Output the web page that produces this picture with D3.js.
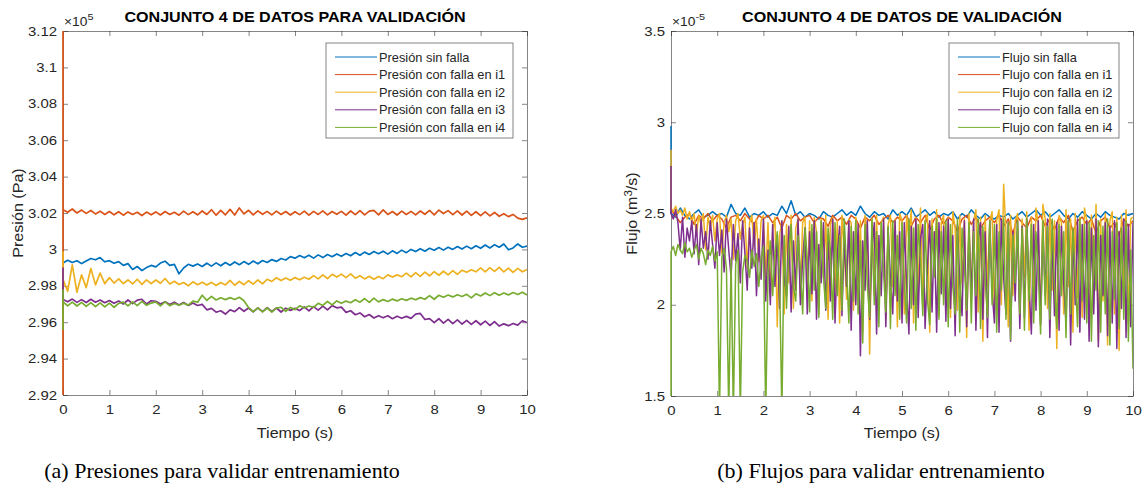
<!DOCTYPE html>
<html>
<head>
<meta charset="utf-8">
<script src="https://cdn.jsdelivr.net/npm/d3@7"></script>
<style>
  body { margin: 0; background: #fff; }
  svg { font-family: Arial, "Liberation Sans", Helvetica, sans-serif; }
</style>
</head>
<body>
<svg id="chart" width="1145" height="490"></svg>
<script>
// ---- data ----
// presion en unidades de 1e5 Pa, una muestra cada 0.1 s
let presSinFalla = [2.9925,2.9940,2.9928,2.9938,2.9922,2.9936,2.9950,2.9943,2.9955,2.9932,
  2.9938,2.9924,2.9933,2.9912,2.9922,2.9890,2.9906,2.9884,2.9900,2.9912,
  2.9904,2.9925,2.9935,2.9912,2.9918,2.9866,2.9898,2.9918,2.9908,2.9920,
  2.9906,2.9924,2.9908,2.9926,2.9910,2.9928,2.9913,2.9931,2.9916,2.9933,
  2.9918,2.9936,2.9921,2.9939,2.9928,2.9944,2.9934,2.9950,2.9942,2.9960,
  2.9952,2.9966,2.9954,2.9968,2.9952,2.9970,2.9955,2.9972,2.9960,2.9975,
  2.9962,2.9977,2.9965,2.9983,2.9968,2.9985,2.9972,2.9988,2.9976,2.9990,
  2.9974,2.9992,2.9978,2.9996,2.9982,3.0000,2.9988,3.0004,2.9990,3.0006,
  2.9995,3.0010,2.9996,3.0012,3.0000,3.0016,3.0002,3.0018,3.0004,3.0020,
  3.0006,3.0024,3.0008,3.0026,3.0012,3.0030,2.9998,3.0008,3.0030,3.0012,3.0018];
let presFallaI1 = [3.0218,3.0204,3.0222,3.0200,3.0216,3.0198,3.0214,3.0195,3.0210,3.0192,
  3.0208,3.0190,3.0207,3.0188,3.0206,3.0192,3.0204,3.0186,3.0205,3.0190,
  3.0206,3.0189,3.0208,3.0192,3.0204,3.0188,3.0210,3.0191,3.0207,3.0190,
  3.0211,3.0192,3.0218,3.0188,3.0214,3.0190,3.0220,3.0189,3.0228,3.0195,
  3.0215,3.0190,3.0212,3.0193,3.0209,3.0190,3.0210,3.0192,3.0208,3.0189,
  3.0207,3.0191,3.0210,3.0188,3.0209,3.0192,3.0212,3.0190,3.0208,3.0193,
  3.0209,3.0188,3.0211,3.0191,3.0213,3.0190,3.0210,3.0214,3.0190,3.0217,
  3.0192,3.0208,3.0189,3.0210,3.0192,3.0209,3.0190,3.0211,3.0193,3.0214,
  3.0190,3.0216,3.0197,3.0213,3.0191,3.0212,3.0189,3.0210,3.0187,3.0207,
  3.0186,3.0206,3.0184,3.0203,3.0182,3.0196,3.0180,3.0192,3.0172,3.0165,3.0174];
let presFallaI2 = [2.9835,2.9770,2.9915,2.9765,2.9860,2.9790,2.9895,2.9805,2.9870,2.9812,
  2.9845,2.9815,2.9838,2.9812,2.9832,2.9810,2.9836,2.9808,2.9833,2.9812,
  2.9832,2.9814,2.9840,2.9810,2.9825,2.9807,2.9818,2.9800,2.9822,2.9806,
  2.9820,2.9804,2.9819,2.9802,2.9818,2.9805,2.9830,2.9803,2.9824,2.9806,
  2.9828,2.9809,2.9832,2.9811,2.9836,2.9824,2.9844,2.9829,2.9843,2.9831,
  2.9845,2.9833,2.9847,2.9836,2.9856,2.9838,2.9860,2.9840,2.9863,2.9848,
  2.9864,2.9845,2.9866,2.9842,2.9855,2.9838,2.9852,2.9836,2.9851,2.9839,
  2.9860,2.9848,2.9860,2.9850,2.9870,2.9849,2.9872,2.9852,2.9875,2.9855,
  2.9878,2.9858,2.9880,2.9860,2.9883,2.9863,2.9886,2.9874,2.9888,2.9877,
  2.9898,2.9877,2.9900,2.9879,2.9901,2.9876,2.9897,2.9874,2.9896,2.9877,2.9889];
let presFallaI3 = [2.9725,2.9712,2.9727,2.9709,2.9724,2.9708,2.9726,2.9710,2.9722,2.9707,
  2.9719,2.9704,2.9716,2.9700,2.9722,2.9702,2.9721,2.9726,2.9700,2.9718,
  2.9715,2.9700,2.9713,2.9697,2.9710,2.9695,2.9708,2.9692,2.9706,2.9692,
  2.9698,2.9668,2.9676,2.9655,2.9663,2.9645,2.9668,2.9658,2.9680,2.9660,
  2.9678,2.9657,2.9679,2.9658,2.9680,2.9659,2.9678,2.9656,2.9677,2.9665,
  2.9676,2.9664,2.9684,2.9662,2.9686,2.9666,2.9688,2.9668,2.9691,2.9679,
  2.9683,2.9654,2.9663,2.9641,2.9651,2.9630,2.9642,2.9623,2.9636,2.9624,
  2.9635,2.9619,2.9633,2.9622,2.9632,2.9621,2.9644,2.9648,2.9615,2.9620,
  2.9598,2.9619,2.9595,2.9616,2.9592,2.9613,2.9590,2.9610,2.9588,2.9608,
  2.9586,2.9606,2.9582,2.9603,2.9579,2.9591,2.9581,2.9593,2.9584,2.9608,2.9598];
let presFallaI4 = [2.9712,2.9690,2.9710,2.9689,2.9709,2.9687,2.9708,2.9686,2.9706,2.9684,
  2.9705,2.9682,2.9703,2.9710,2.9690,2.9712,2.9691,2.9714,2.9693,2.9705,
  2.9711,2.9690,2.9712,2.9691,2.9703,2.9693,2.9704,2.9694,2.9716,2.9710,
  2.9748,2.9720,2.9742,2.9722,2.9734,2.9724,2.9735,2.9725,2.9737,2.9718,
  2.9680,2.9658,2.9679,2.9657,2.9678,2.9656,2.9677,2.9682,2.9660,2.9681,
  2.9669,2.9690,2.9678,2.9689,2.9682,2.9704,2.9692,2.9714,2.9695,2.9717,
  2.9704,2.9716,2.9707,2.9723,2.9710,2.9730,2.9709,2.9732,2.9712,2.9724,
  2.9714,2.9727,2.9717,2.9729,2.9720,2.9732,2.9723,2.9735,2.9726,2.9746,
  2.9726,2.9748,2.9737,2.9749,2.9739,2.9751,2.9741,2.9753,2.9734,2.9756,
  2.9744,2.9760,2.9746,2.9762,2.9748,2.9760,2.9750,2.9763,2.9752,2.9765,2.9750];
// transitorio en t = 0 (valores antes de la primera muestra)
let presInicio = [[], [2.90, 3.14], [2.999], [2.990], [2.9557, 2.9777]];

// flujo en unidades de 1e-5 m3/s
let flujoSinFalla = [2.50,2.48,2.53,2.49,2.47,2.50,2.52,2.48,2.49,2.51,
  2.49,2.50,2.48,2.55,2.50,2.49,2.53,2.48,2.50,2.49,
  2.51,2.48,2.50,2.49,2.54,2.50,2.57,2.49,2.51,2.48,
  2.50,2.49,2.47,2.51,2.49,2.48,2.50,2.52,2.49,2.51,
  2.49,2.54,2.50,2.48,2.51,2.49,2.50,2.47,2.52,2.49,
  2.51,2.49,2.53,2.48,2.50,2.52,2.49,2.51,2.48,2.50,
  2.49,2.51,2.47,2.50,2.48,2.52,2.49,2.47,2.50,2.48,
  2.47,2.49,2.48,2.50,2.47,2.49,2.51,2.48,2.50,2.52,
  2.49,2.51,2.48,2.50,2.52,2.49,2.47,2.50,2.48,2.51,
  2.49,2.47,2.50,2.48,2.51,2.49,2.48,2.47,2.50,2.49,2.50];
let flujoFallaI1 = [2.52,2.49,2.45,2.48,2.50,2.44,2.49,2.47,2.50,2.46,
  2.49,2.47,2.42,2.48,2.49,2.46,2.50,2.47,2.44,2.49,
  2.47,2.49,2.45,2.48,2.42,2.49,2.47,2.50,2.46,2.48,
  2.49,2.45,2.48,2.47,2.43,2.49,2.46,2.48,2.44,2.49,
  2.47,2.42,2.48,2.46,2.49,2.44,2.47,2.49,2.45,2.48,
  2.46,2.49,2.43,2.48,2.45,2.49,2.41,2.47,2.49,2.44,
  2.48,2.46,2.40,2.47,2.49,2.44,2.48,2.42,2.46,2.48,
  2.45,2.49,2.43,2.47,2.39,2.48,2.45,2.42,2.48,2.46,
  2.49,2.43,2.47,2.41,2.48,2.45,2.49,2.40,2.46,2.48,
  2.44,2.47,2.39,2.46,2.48,2.42,2.45,2.38,2.47,2.43,2.46];
let flujoFallaI2 = [2.53,2.51,2.54,2.50,2.52,2.49,2.53,2.47,2.51,2.45,2.50,2.38,2.49,2.44,2.50,2.30,2.48,2.42,2.49,2.35,
  2.47,2.50,2.28,2.45,2.49,2.40,2.47,2.25,2.46,2.50,2.36,2.44,2.48,2.20,2.45,2.49,2.32,2.47,2.24,2.46,
  2.49,2.15,2.45,2.05,2.40,2.48,1.88,2.38,2.46,1.95,2.44,2.12,2.49,1.98,2.42,2.47,2.05,2.45,2.48,2.10,
  2.46,2.02,2.48,2.40,1.95,2.47,2.15,2.49,1.92,2.44,2.48,2.08,2.46,1.90,2.49,2.30,2.03,2.47,2.45,1.97,
  2.48,2.12,2.46,1.85,2.49,2.40,1.73,2.47,2.05,2.49,1.96,2.45,2.48,1.92,2.44,2.49,2.10,2.47,1.88,2.50,
  2.46,1.95,2.49,2.35,2.52,1.90,2.48,2.07,2.53,1.98,2.46,2.50,1.85,2.47,2.20,2.52,1.94,2.45,2.49,2.02,
  2.48,1.93,2.51,2.42,1.97,2.49,2.12,2.47,1.82,2.50,2.04,2.46,2.52,1.96,2.48,1.80,2.49,2.10,2.46,2.51,
  1.95,2.47,2.52,2.00,2.66,2.40,1.88,2.49,2.05,2.46,2.50,1.92,2.47,2.15,2.51,1.86,2.48,2.02,2.53,2.44,
  1.90,2.55,2.47,1.98,2.50,2.08,2.46,1.76,2.49,2.45,1.95,2.52,2.10,2.47,1.85,2.50,2.04,2.48,1.93,2.53,
  2.46,1.88,2.49,2.12,2.55,1.80,2.47,2.02,2.50,1.78,2.46,2.51,1.95,2.48,1.75,2.49,2.05,2.52,1.90,2.47,2.48];
let flujoFallaI3 = [2.50,2.47,2.52,2.45,2.30,2.48,2.26,2.42,2.35,2.46,2.28,2.44,2.22,2.47,2.31,2.40,2.25,2.46,2.33,2.20,
  2.45,2.27,2.41,2.18,2.47,2.30,2.15,2.44,2.24,2.39,2.12,2.46,2.28,2.08,2.42,2.20,2.45,2.05,2.36,2.14,
  2.47,2.02,2.30,2.00,2.44,2.10,2.38,1.98,2.46,2.15,2.05,2.43,1.96,2.35,2.08,2.47,2.00,2.25,2.42,1.95,
  2.40,2.06,2.46,1.92,2.33,2.12,2.45,1.97,2.38,2.02,2.47,1.90,2.28,2.43,1.94,2.36,2.10,2.46,1.86,2.40,
  2.00,2.44,1.72,2.35,2.08,2.46,1.92,2.30,2.45,1.84,2.38,2.05,2.47,1.88,2.42,2.14,1.95,2.46,2.02,2.40,
  1.90,2.45,2.10,1.84,2.43,2.00,2.47,1.93,2.36,2.44,1.87,2.20,2.46,1.96,2.40,1.85,2.45,2.06,2.43,1.91,
  2.47,1.98,2.38,1.83,2.44,2.12,1.94,2.46,1.88,2.42,2.03,2.47,1.86,2.35,2.45,1.92,2.40,1.82,2.46,2.08,
  1.90,2.44,1.85,2.47,2.15,1.95,2.45,1.80,2.40,2.02,2.46,1.87,2.43,1.93,2.47,2.10,1.84,2.44,1.97,2.46,
  1.89,2.42,2.05,2.47,1.82,2.38,1.94,2.45,1.86,2.43,2.12,1.90,2.46,1.78,2.40,2.00,2.47,1.85,2.44,1.92,
  2.46,1.80,2.42,1.95,2.47,1.77,2.38,2.05,2.45,1.83,2.43,1.90,2.46,1.76,2.40,1.98,2.47,1.82,2.44,1.88,2.45];
let flujoFallaI4 = [2.29,2.32,2.27,2.33,2.30,2.28,2.34,2.29,2.31,2.26,2.30,2.33,2.25,2.31,2.28,2.22,2.30,2.27,2.32,2.24,
  2.29,1.40,2.26,2.31,2.20,1.40,2.25,1.40,2.22,2.30,1.40,2.18,2.27,2.24,2.15,2.30,2.21,2.28,2.10,2.25,
  2.32,1.40,2.18,2.35,2.05,2.28,2.40,2.15,1.40,2.38,1.98,2.30,2.44,2.10,2.02,2.38,2.20,1.95,2.42,2.25,
  1.96,2.44,2.08,2.40,1.93,2.46,2.15,1.98,2.42,2.30,1.92,2.45,2.05,2.38,1.97,2.47,2.20,1.90,2.43,2.02,
  2.46,1.95,2.35,1.79,2.44,2.10,1.93,2.47,2.00,2.40,1.88,2.45,2.18,1.96,2.43,1.87,2.46,2.05,2.38,1.92,
  2.45,2.12,1.90,2.47,1.98,2.42,1.86,2.44,2.25,1.94,2.46,2.03,1.89,2.43,2.15,2.47,1.92,2.40,2.00,2.46,
  1.88,2.44,2.10,1.95,2.47,1.85,2.42,2.22,1.97,2.45,1.90,2.40,2.05,2.47,1.87,2.43,2.14,1.93,2.46,2.00,
  2.44,1.85,2.40,2.08,2.47,1.92,2.45,1.81,2.38,2.12,2.46,1.95,2.42,1.86,2.47,2.02,2.44,1.90,2.40,2.18,
  1.84,2.46,2.00,2.43,1.92,2.47,2.10,1.87,2.44,2.05,2.40,1.82,2.46,1.95,2.42,2.15,1.88,2.47,2.02,2.44,
  1.90,2.45,1.80,2.38,2.08,2.46,1.85,2.43,1.95,2.47,1.78,2.40,2.03,2.45,1.87,2.42,1.92,2.46,1.80,2.30,1.65];
let flujoInicio = [[2.98], [2.55], [2.85], [2.76], [1.45]];

let coloresSerie = ["#0072BD", "#D95319", "#EDB120", "#7E2F8E", "#77AC30"];
let nombresPresion = ["Presión sin falla", "Presión con falla en i1", "Presión con falla en i2", "Presión con falla en i3", "Presión con falla en i4"];
let nombresFlujo = ["Flujo sin falla", "Flujo con falla en i1", "Flujo con falla en i2", "Flujo con falla en i3", "Flujo con falla en i4"];
let ticksTiempo = [0, 1, 2, 3, 4, 5, 6, 7, 8, 9, 10];
let ticksPresion = [2.92, 2.94, 2.96, 2.98, 3.0, 3.02, 3.04, 3.06, 3.08, 3.1, 3.12];
let ticksFlujo = [1.5, 2, 2.5, 3, 3.5];

let svg = d3.select("#chart");
let axisColor = "#262626";
let sx = 1.15; // la figura original viene estirada en horizontal

// arma puntos (t, v): transitorio en t=0 y luego muestras equiespaciadas en 0..10 s
function toPoints(init, vals) {
  let pts = init.map(v => [0, v]);
  let n = vals.length;
  vals.forEach((v, i) => pts.push([i * 10 / (n - 1), v]));
  return pts;
}

// texto estirado en horizontal
function label(x, y, rot, s) {
  return svg.append("text")
    .attr("transform", `translate(${x},${y})${rot ? " rotate(" + rot + ")" : ""} scale(${s},1)`);
}

function drawPanel(cfg) {
  let x = d3.scaleLinear().domain([0, 10]).range([cfg.left, cfg.right]);
  let y = d3.scaleLinear().domain(cfg.yDomain).range([cfg.bottom, cfg.top]);
  let g = svg.append("g");

  // ejes con ticks hacia adentro en los cuatro lados
  let tickLen = 5;
  let fmt = d => String(+d.toFixed(3));
  g.append("g").attr("class", "xb").attr("transform", `translate(0,${cfg.bottom})`)
    .call(d3.axisBottom(x).tickValues(ticksTiempo).tickSizeInner(-tickLen).tickSizeOuter(0).tickPadding(10).tickFormat(fmt));
  g.append("g").attr("transform", `translate(0,${cfg.top})`)
    .call(d3.axisTop(x).tickValues(ticksTiempo).tickSizeInner(-tickLen).tickSizeOuter(0).tickFormat(""));
  g.append("g").attr("class", "yl").attr("transform", `translate(${cfg.left},0)`)
    .call(d3.axisLeft(y).tickValues(cfg.yTicks).tickSizeInner(-tickLen).tickSizeOuter(0).tickPadding(6).tickFormat(fmt));
  g.append("g").attr("transform", `translate(${cfg.right},0)`)
    .call(d3.axisRight(y).tickValues(cfg.yTicks).tickSizeInner(-tickLen).tickSizeOuter(0).tickFormat(""));
  g.selectAll(".domain, .tick line").attr("stroke", axisColor).attr("stroke-width", 0.8).attr("stroke-opacity", 0.7);
  g.selectAll(".tick text").attr("fill", axisColor).style("font-size", "13px")
    .style("font-family", "Arial, 'Liberation Sans', sans-serif")
    .attr("transform", `scale(${sx},1)`);
  g.selectAll(".yl .tick text").attr("x", -6 / sx);

  let clipId = "clip" + cfg.id;
  svg.append("defs").append("clipPath").attr("id", clipId)
    .append("rect").attr("x", cfg.left - 1.5).attr("y", cfg.top)
    .attr("width", cfg.right - cfg.left + 1.5).attr("height", cfg.bottom - cfg.top);

  let line = d3.line().x(d => x(d[0])).y(d => y(d[1]));
  let lines = svg.append("g").attr("clip-path", `url(#${clipId})`);
  cfg.series.forEach((s, i) => {
    lines.append("path")
      .datum(toPoints(cfg.inicio[i], s))
      .attr("fill", "none")
      .attr("stroke", coloresSerie[i])
      .attr("stroke-width", cfg.lw)
      .attr("stroke-linejoin", "round")
      .attr("d", line);
  });

  // titulo, exponente, etiquetas
  let cx = (cfg.left + cfg.right) / 2;
  label(cx, 22, 0, sx).attr("text-anchor", "middle")
    .style("font-size", "14px").style("font-weight", "bold").attr("fill", "#000").text(cfg.title);
  let ex = label(cfg.left + 1, 26, 0, sx).attr("fill", axisColor).style("font-size", "12px");
  ex.append("tspan").text("×10");
  ex.append("tspan").attr("dy", -6).style("font-size", "9.5px").text(cfg.exp);
  label(cx, 438, 0, sx).attr("text-anchor", "middle").attr("fill", axisColor)
    .style("font-size", "14px").text("Tiempo (s)");
  let yl = label(cfg.ylabelX, (cfg.top + cfg.bottom) / 2, -90, sx)
    .attr("text-anchor", "middle").attr("fill", axisColor).style("font-size", "14px");
  cfg.ylabel(yl);

  // leyenda
  let lg = svg.append("g");
  lg.append("rect").attr("x", cfg.legX).attr("y", 43).attr("width", cfg.legW).attr("height", 95)
    .attr("fill", "#fff").attr("stroke", axisColor).attr("stroke-opacity", 0.7).attr("stroke-width", 0.8);
  cfg.names.forEach((nm, i) => {
    let yy = 57 + i * 17.6;
    lg.append("line").attr("x1", cfg.legX + 9).attr("x2", cfg.legX + 51).attr("y1", yy).attr("y2", yy)
      .attr("stroke", coloresSerie[i]).attr("stroke-width", 1);
    label(cfg.legX + 53, yy + 4.5, 0, 1.07).attr("fill", axisColor)
      .style("font-size", "12px").text(nm);
  });

  // subtitulo
  svg.append("text").attr("x", cfg.capX).attr("y", 478).attr("text-anchor", "middle").attr("fill", "#000")
    .style("font-family", "'Liberation Serif', 'DejaVu Serif', serif").style("font-size", "22px").text(cfg.caption);
}

drawPanel({
  id: "P", left: 63, right: 527, top: 31, bottom: 395, yDomain: [2.92, 3.12], yTicks: ticksPresion,
  series: [presSinFalla, presFallaI1, presFallaI2, presFallaI3, presFallaI4], inicio: presInicio, lw: 1.7,
  title: "CONJUNTO 4 DE DATOS PARA VALIDACIÓN", exp: "5", ylabelX: 23,
  ylabel: t => t.text("Presión (Pa)"),
  names: nombresPresion, legX: 326, legW: 187,
  caption: "(a) Presiones para validar entrenamiento", capX: 222
});

drawPanel({
  id: "F", left: 671, right: 1133, top: 31, bottom: 396, yDomain: [1.5, 3.5], yTicks: ticksFlujo,
  series: [flujoSinFalla, flujoFallaI1, flujoFallaI2, flujoFallaI3, flujoFallaI4], inicio: flujoInicio, lw: 1.5,
  title: "CONJUNTO 4 DE DATOS DE VALIDACIÓN", exp: "-5", ylabelX: 637,
  ylabel: t => {
    t.append("tspan").text("Flujo (m");
    t.append("tspan").attr("dy", -5).style("font-size", "10px").text("3");
    t.append("tspan").attr("dy", 5).text("/s)");
  },
  names: nombresFlujo, legX: 949, legW: 170,
  caption: "(b) Flujos para validar entrenamiento", capX: 881
});
</script>
</body>
</html>
